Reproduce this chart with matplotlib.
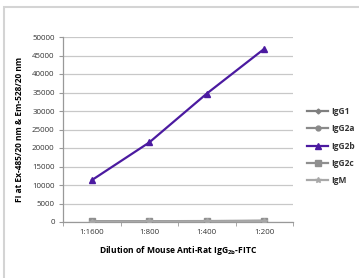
import matplotlib

matplotlib.use("Agg")

import matplotlib.pyplot as plt  # noqa: E402
from matplotlib.patches import Rectangle  # noqa: E402

plt.rcParams["font.family"] = ["Open Sans", "DejaVu Sans"]

dilutions = ["1:1600", "1:800", "1:400", "1:200"]
igg1 = [150, 170, 200, 260]
igg2a = [200, 220, 260, 320]
igg2b = [11300, 21500, 34700, 46800]
igg2c = [180, 200, 230, 290]
igm = [120, 150, 180, 230]

series = [
    ("IgG1", igg1, "#7f7f7f", "D", 2.5),
    ("IgG2a", igg2a, "#8a8a8a", "o", 3.5),
    ("IgG2b", igg2b, "#4b1aa0", "^", 4.5),
    ("IgG2c", igg2c, "#8f8f8f", "s", 4.0),
    ("IgM", igm, "#a8a8a8", "*", 4.0),
]

fig = plt.figure(figsize=(3.59, 2.78), dpi=100)
fig.patches.append(
    Rectangle((4 / 359, -0.1), 1.2, 1 - 7 / 278 + 0.1, transform=fig.transFigure,
              fill=False, edgecolor="#d4d4d4", linewidth=1.5)
)
ax = fig.add_axes([63 / 359, 1 - 222 / 278, 230 / 359, 185 / 278])

x = list(range(len(dilutions)))
for name, vals, color, marker, ms in series:
    ax.plot(x, vals, color=color, linewidth=1.6, marker=marker, markersize=ms,
            markeredgecolor=color, label=name, zorder=3 if name != "IgG2b" else 4)

ax.set_xlim(-0.5, len(dilutions) - 0.5)
ax.set_ylim(0, 50000)
ax.set_yticks(range(0, 50001, 5000))
ax.set_xticks(x)
ax.set_xticklabels(dilutions)
ax.set_xticks([i - 0.5 for i in range(len(dilutions) + 1)], minor=True)
ax.tick_params(axis="x", which="major", length=0, labelsize=5.7, pad=5, colors="#333333")
ax.tick_params(axis="x", which="minor", length=3, color="#999999", direction="out")
ax.tick_params(axis="y", length=3, color="#999999", labelsize=5.7, pad=3, labelcolor="#333333")

ax.grid(axis="y", color="#c8c8c8", linewidth=0.9)
ax.set_axisbelow(True)
for side in ("top", "right"):
    ax.spines[side].set_visible(False)
for side in ("left", "bottom"):
    ax.spines[side].set_color("#999999")
    ax.spines[side].set_linewidth(0.9)

ax.set_ylabel("FI at Ex-485/20 nm & Em-528/20 nm", fontsize=6, fontweight="bold",
              labelpad=6)
ax.set_xlabel("Dilution of Mouse Anti-Rat IgG$_{\\mathregular{2b}}$-FITC", fontsize=6.1,
              fontweight="bold", labelpad=6)

leg = ax.legend(loc="center left", bbox_to_anchor=(1.045, 0.41), frameon=False,
                fontsize=6, handlelength=2.6, handletextpad=0.35, labelspacing=1.0,
                borderaxespad=0)
for t in leg.get_texts():
    t.set_fontweight("bold")
    t.set_color("#333333")

fig.savefig("out.png", dpi=100)
